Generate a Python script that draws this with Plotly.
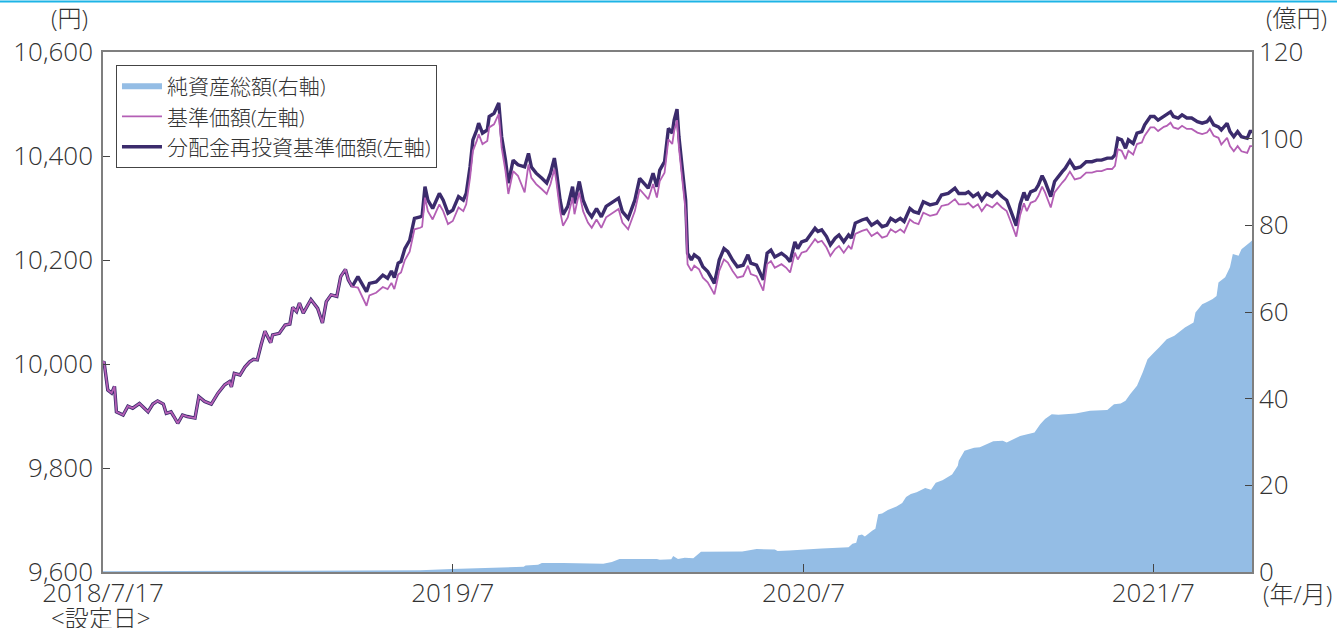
import plotly.graph_objects as go

# ---------------- data ----------------
price_dates = [
    "2018-07-17", "2018-07-18", "2018-07-22", "2018-07-26", "2018-07-29", "2018-07-31",
    "2018-08-07", "2018-08-12", "2018-08-17", "2018-08-24", "2018-09-02", "2018-09-07",
    "2018-09-12", "2018-09-18", "2018-09-21", "2018-09-26", "2018-09-29", "2018-10-03",
    "2018-10-08", "2018-10-13", "2018-10-21", "2018-10-25", "2018-10-31", "2018-11-07",
    "2018-11-14", "2018-11-21", "2018-11-26", "2018-11-28", "2018-12-01", "2018-12-07",
    "2018-12-12", "2018-12-17", "2018-12-21", "2018-12-25", "2018-12-29", "2019-01-02",
    "2019-01-08", "2019-01-10", "2019-01-17", "2019-01-23", "2019-01-28", "2019-01-31",
    "2019-02-04", "2019-02-07", "2019-02-11", "2019-02-19", "2019-02-26", "2019-03-03",
    "2019-03-07", "2019-03-12", "2019-03-18", "2019-03-22", "2019-03-27", "2019-03-30",
    "2019-04-03", "2019-04-09", "2019-04-18", "2019-04-21", "2019-04-28", "2019-05-05",
    "2019-05-10", "2019-05-14", "2019-05-17", "2019-05-21", "2019-05-24", "2019-05-28",
    "2019-06-02", "2019-06-07", "2019-06-13", "2019-06-15", "2019-06-18", "2019-06-21",
    "2019-06-26", "2019-07-03", "2019-07-07", "2019-07-12", "2019-07-17", "2019-07-23",
    "2019-07-28", "2019-07-31", "2019-08-04", "2019-08-07", "2019-08-11", "2019-08-13",
    "2019-08-17", "2019-08-22", "2019-08-24", "2019-08-29", "2019-09-03", "2019-09-06",
    "2019-09-10", "2019-09-13", "2019-09-18", "2019-09-23", "2019-09-30", "2019-10-04",
    "2019-10-07", "2019-10-12", "2019-10-18", "2019-10-23", "2019-10-27", "2019-10-31",
    "2019-11-02", "2019-11-06", "2019-11-09", "2019-11-14", "2019-11-19", "2019-11-21",
    "2019-11-26", "2019-11-30", "2019-12-05", "2019-12-09", "2019-12-14", "2019-12-19",
    "2019-12-24", "2019-12-31", "2020-01-06", "2020-01-10", "2020-01-16", "2020-01-23",
    "2020-01-28", "2020-02-06", "2020-02-11", "2020-02-15", "2020-02-18", "2020-02-23",
    "2020-02-27", "2020-03-02", "2020-03-04", "2020-03-07", "2020-03-09", "2020-03-13",
    "2020-03-16", "2020-03-18", "2020-03-22", "2020-03-25", "2020-03-30", "2020-04-03",
    "2020-04-08", "2020-04-12", "2020-04-15", "2020-04-18", "2020-04-20", "2020-04-25",
    "2020-04-29", "2020-05-04", "2020-05-09", "2020-05-15", "2020-05-20", "2020-05-23",
    "2020-05-29", "2020-06-05", "2020-06-09", "2020-06-13", "2020-06-17", "2020-06-24",
    "2020-06-29", "2020-07-03", "2020-07-08", "2020-07-11", "2020-07-15", "2020-07-20",
    "2020-07-29", "2020-08-01", "2020-08-05", "2020-08-10", "2020-08-14", "2020-08-19",
    "2020-08-23", "2020-08-28", "2020-09-02", "2020-09-05", "2020-09-09", "2020-09-16",
    "2020-09-21", "2020-09-26", "2020-10-02", "2020-10-07", "2020-10-12", "2020-10-16",
    "2020-10-21", "2020-10-26", "2020-10-30", "2020-11-05", "2020-11-09", "2020-11-14",
    "2020-11-19", "2020-11-26", "2020-12-03", "2020-12-08", "2020-12-15", "2020-12-22",
    "2020-12-26", "2021-01-02", "2021-01-05", "2021-01-10", "2021-01-15", "2021-01-19",
    "2021-01-24", "2021-01-30", "2021-02-04", "2021-02-09", "2021-02-14", "2021-02-18",
    "2021-02-24", "2021-02-28", "2021-03-04", "2021-03-07", "2021-03-11", "2021-03-16",
    "2021-03-19", "2021-03-23", "2021-03-26", "2021-04-01", "2021-04-05", "2021-04-13",
    "2021-04-16", "2021-04-21", "2021-04-26", "2021-05-02", "2021-05-08", "2021-05-14",
    "2021-05-19", "2021-05-24", "2021-05-30", "2021-06-04", "2021-06-07", "2021-06-10",
    "2021-06-14", "2021-06-18", "2021-06-21", "2021-06-26", "2021-06-30", "2021-07-05",
    "2021-07-08", "2021-07-14", "2021-07-18", "2021-07-22", "2021-07-28", "2021-07-31",
    "2021-08-04", "2021-08-07", "2021-08-12", "2021-08-16", "2021-08-21", "2021-08-26",
    "2021-09-01", "2021-09-06", "2021-09-11", "2021-09-14", "2021-09-18", "2021-09-23",
    "2021-09-26", "2021-10-02", "2021-10-05", "2021-10-09", "2021-10-13", "2021-10-17",
    "2021-10-23", "2021-10-26", "2021-10-28",
]

# 分配金再投資基準価額 (円)
reinvested_nav = [
    10002, 10005, 9950, 9944, 9957, 9908,
    9902, 9919, 9915, 9924, 9908, 9923,
    9929, 9923, 9905, 9908, 9899, 9886,
    9902, 9899, 9896, 9937, 9928, 9923,
    9944, 9960, 9966, 9956, 9982, 9979,
    9994, 10004, 10009, 10008, 10037, 10063,
    10041, 10056, 10059, 10075, 10077, 10109,
    10101, 10117, 10098, 10124, 10107, 10079,
    10120, 10133, 10130, 10168, 10182, 10162,
    10149, 10168, 10139, 10155, 10158, 10171,
    10165, 10179, 10166, 10194, 10197, 10222,
    10238, 10280, 10283, 10285, 10341, 10315,
    10299, 10328, 10315, 10290, 10296, 10322,
    10315, 10328, 10379, 10431, 10450, 10463,
    10444, 10450, 10476, 10482, 10502, 10437,
    10392, 10348, 10392, 10383, 10379, 10405,
    10379, 10367, 10357, 10348, 10367, 10396,
    10373, 10315, 10287, 10303, 10341, 10309,
    10351, 10315, 10293, 10283, 10299, 10283,
    10303, 10312, 10319, 10293, 10280, 10315,
    10357, 10338, 10367, 10341, 10373, 10389,
    10453, 10444, 10469, 10490, 10437, 10367,
    10315, 10213, 10200, 10210, 10203, 10187,
    10178, 10165, 10155, 10181, 10200, 10222,
    10216, 10200, 10187, 10190, 10210, 10194,
    10190, 10162, 10213, 10219, 10206, 10213,
    10206, 10197, 10235, 10222, 10235, 10238,
    10261, 10255, 10258, 10245, 10229, 10242,
    10248, 10235, 10248, 10242, 10271, 10277,
    10280, 10267, 10274, 10264, 10267, 10280,
    10274, 10280, 10274, 10299, 10293, 10290,
    10312, 10306, 10309, 10325, 10328, 10338,
    10328, 10328, 10331, 10322, 10328, 10315,
    10328, 10322, 10331, 10322, 10315, 10296,
    10266, 10307, 10330, 10315, 10331, 10335,
    10344, 10362, 10351, 10322, 10351, 10370,
    10376, 10391, 10376, 10379, 10389, 10389,
    10392, 10392, 10396, 10396, 10402, 10434,
    10431, 10415, 10431, 10424, 10444, 10447,
    10460, 10476, 10476, 10469, 10477, 10479,
    10485, 10476, 10473, 10479, 10473, 10473,
    10466, 10463, 10466, 10473, 10460, 10456,
    10450, 10463, 10447, 10437, 10447, 10437,
    10434, 10447, 10447,
]

# 基準価額 (円)
nav = [
    10002, 10005, 9950, 9944, 9957, 9908,
    9902, 9919, 9915, 9924, 9908, 9923,
    9929, 9923, 9905, 9908, 9899, 9886,
    9902, 9899, 9896, 9937, 9928, 9923,
    9944, 9960, 9966, 9956, 9982, 9979,
    9994, 10004, 10009, 10008, 10037, 10063,
    10041, 10056, 10059, 10075, 10077, 10109,
    10101, 10117, 10098, 10124, 10107, 10079,
    10120, 10133, 10130, 10168, 10182, 10162,
    10149, 10147, 10112, 10132, 10137, 10148,
    10144, 10156, 10144, 10172, 10176, 10200,
    10216, 10259, 10262, 10264, 10320, 10294,
    10278, 10307, 10294, 10269, 10275, 10301,
    10294, 10307, 10358, 10410, 10429, 10442,
    10423, 10429, 10455, 10461, 10481, 10416,
    10371, 10327, 10371, 10362, 10330, 10384,
    10358, 10346, 10336, 10327, 10346, 10375,
    10352, 10294, 10266, 10282, 10320, 10288,
    10330, 10294, 10272, 10262, 10278, 10262,
    10282, 10291, 10298, 10272, 10259, 10294,
    10336, 10317, 10346, 10320, 10352, 10368,
    10432, 10423, 10448, 10469, 10416, 10346,
    10294, 10192, 10179, 10189, 10182, 10166,
    10157, 10144, 10134, 10160, 10179, 10201,
    10195, 10179, 10166, 10169, 10189, 10173,
    10169, 10141, 10192, 10198, 10185, 10192,
    10185, 10176, 10214, 10201, 10214, 10217,
    10240, 10234, 10237, 10224, 10208, 10221,
    10227, 10214, 10227, 10221, 10250, 10256,
    10259, 10246, 10253, 10243, 10246, 10259,
    10253, 10259, 10253, 10278, 10272, 10269,
    10291, 10285, 10288, 10304, 10307, 10317,
    10307, 10307, 10310, 10301, 10307, 10294,
    10307, 10301, 10310, 10301, 10294, 10275,
    10245, 10286, 10309, 10294, 10310, 10314,
    10323, 10341, 10330, 10301, 10330, 10349,
    10355, 10370, 10355, 10358, 10368, 10368,
    10371, 10371, 10375, 10375, 10381, 10413,
    10410, 10394, 10410, 10403, 10423, 10426,
    10439, 10455, 10455, 10448, 10456, 10458,
    10464, 10455, 10452, 10458, 10452, 10452,
    10445, 10442, 10445, 10452, 10439, 10435,
    10422, 10435, 10419, 10409, 10419, 10409,
    10406, 10419, 10419,
]

# 純資産総額 (億円)
asset_dates = [
    "2018-07-17", "2019-02-07", "2019-06-13", "2019-07-16", "2019-09-29", "2019-10-01",
    "2019-10-14", "2019-10-18", "2019-11-09", "2019-12-21", "2019-12-30", "2020-01-07",
    "2020-02-15", "2020-02-18", "2020-03-01", "2020-03-03", "2020-03-08", "2020-03-15",
    "2020-03-24", "2020-04-01", "2020-05-14", "2020-05-29", "2020-06-17", "2020-06-20",
    "2020-07-02", "2020-08-05", "2020-09-02", "2020-09-06", "2020-09-10", "2020-09-12",
    "2020-09-16", "2020-09-19", "2020-09-27", "2020-09-30", "2020-10-03", "2020-10-07",
    "2020-10-13", "2020-10-22", "2020-10-28", "2020-11-01", "2020-11-06", "2020-11-12",
    "2020-11-21", "2020-11-27", "2020-12-02", "2020-12-09", "2020-12-19", "2020-12-25",
    "2020-12-26", "2021-01-01", "2021-01-11", "2021-01-17", "2021-01-31", "2021-02-10",
    "2021-02-14", "2021-02-28", "2021-03-15", "2021-03-21", "2021-03-26", "2021-04-02",
    "2021-04-09", "2021-04-27", "2021-05-12", "2021-05-30", "2021-06-06", "2021-06-13",
    "2021-06-18", "2021-06-23", "2021-06-30", "2021-07-06", "2021-07-11", "2021-07-18",
    "2021-07-23", "2021-07-31", "2021-08-08", "2021-08-19", "2021-08-28", "2021-08-30",
    "2021-09-06", "2021-09-10", "2021-09-17", "2021-09-21", "2021-09-23", "2021-09-30",
    "2021-10-05", "2021-10-08", "2021-10-14", "2021-10-17", "2021-10-26", "2021-10-28",
]
net_assets = [
    0.2, 0.3, 0.4, 0.7, 1.2, 1.5,
    1.7, 2.1, 2.1, 1.9, 2.3, 3.0,
    3.0, 2.85, 2.95, 3.7, 3.0, 3.3,
    3.2, 4.65, 4.75, 5.3, 5.2, 4.85,
    4.95, 5.4, 5.7, 6.5, 6.75, 8.45,
    8.65, 8.2, 9.6, 10.0, 13.3, 13.5,
    14.3, 15.1, 15.9, 17.3, 18.0, 18.4,
    19.4, 19.0, 20.6, 21.2, 22.5, 24.5,
    25.7, 28.0, 28.7, 28.8, 30.2, 30.3,
    29.9, 31.4, 32.2, 34.1, 35.3, 36.4,
    36.3, 36.6, 37.2, 37.4, 38.7, 38.9,
    39.5, 41.1, 43.0, 46.1, 49.1, 50.7,
    51.8, 53.7, 54.5, 56.4, 57.6, 59.9,
    61.8, 62.2, 63.0, 63.7, 66.8, 68.0,
    70.3, 73.4, 73.0, 74.5, 76.1, 76.5,
]

x_tick_vals = ["2018-07-17", "2019-07-17", "2020-07-17", "2021-07-17"]
x_tick_text = ["2018/7/17", "2019/7", "2020/7", "2021/7"]
x_range = ["2018-07-17", "2021-10-28"]

left_range = [9600, 10600]
right_range = [0, 120]

# ---------------- styling ----------------
FONT = "Open Sans, Noto Sans CJK JP"
TXT = "#333333"
AXIS = "#7f7f7f"
TICKFONT = dict(family=FONT, size=26, color=TXT, weight=300)
NOTEFONT = dict(family=FONT, size=24, color=TXT, weight=300)

fig = go.Figure()

fig.add_trace(go.Scatter(
    x=asset_dates, y=net_assets, name="純資産総額(右軸)",
    mode="none", fill="tozeroy", fillcolor="#94bde5",
    yaxis="y", legendrank=1,
))
fig.add_trace(go.Scatter(
    x=price_dates, y=reinvested_nav, name="分配金再投資基準価額(左軸)",
    mode="lines", line=dict(color="#3b2b6c", width=3.4),
    yaxis="y2", legendrank=3,
))
fig.add_trace(go.Scatter(
    x=price_dates, y=nav, name="基準価額(左軸)",
    mode="lines", line=dict(color="#b45fb5", width=1.8),
    yaxis="y2", legendrank=2,
))

fig.update_layout(
    width=1337, height=628,
    margin=dict(l=103, r=85, t=52, b=56, autoexpand=False),
    paper_bgcolor="white", plot_bgcolor="white",
    font=dict(family=FONT, size=22, color=TXT),
    showlegend=True,
    legend=dict(
        x=0.0113, y=0.975, xanchor="left", yanchor="top",
        bgcolor="white", bordercolor="#444444", borderwidth=1,
        font=dict(family=FONT, size=21, color=TXT, weight=300),
        tracegroupgap=0, itemwidth=40,
    ),
    xaxis=dict(
        type="date", range=x_range, automargin=False,
        tickmode="array", tickvals=x_tick_vals, ticktext=x_tick_text,
        ticks="inside", ticklen=8, tickcolor="#444444", tickwidth=1,
        ticklabelstandoff=-3,
        showline=True, linecolor=AXIS, linewidth=1.5, mirror=True,
        showgrid=False, zeroline=False,
        tickfont=TICKFONT,
    ),
    yaxis=dict(
        range=right_range, dtick=20, side="right", automargin=False,
        ticks="inside", ticklen=7, tickcolor="#444444",
        showline=True, linecolor=AXIS, linewidth=1.5,
        showgrid=False, zeroline=False,
        tickfont=TICKFONT,
    ),
    yaxis2=dict(
        range=left_range, dtick=200, side="left", overlaying="y", automargin=False,
        tickformat=",d", ticklabelstandoff=3,
        ticks="inside", ticklen=7, tickcolor="#444444",
        showline=True, linecolor=AXIS, linewidth=1.5,
        showgrid=False, zeroline=False,
        tickfont=TICKFONT,
    ),
    annotations=[
        dict(text="(円)", xref="paper", yref="paper", x=-0.029, y=1.066,
             xanchor="center", yanchor="middle", showarrow=False, font=NOTEFONT),
        dict(text="(億円)", xref="paper", yref="paper", x=1.039, y=1.066,
             xanchor="center", yanchor="middle", showarrow=False, font=NOTEFONT),
        dict(text="(年/月)", xref="paper", yref="paper", x=1.04, y=-0.041,
             xanchor="center", yanchor="middle", showarrow=False, font=NOTEFONT),
        dict(text="&lt;設定日&gt;", xref="paper", yref="paper", x=-0.0026, y=-0.0875,
             xanchor="center", yanchor="middle", showarrow=False, font=NOTEFONT),
    ],
    shapes=[
        dict(type="line", xref="paper", yref="paper",
             x0=-0.1, x1=1.1, y0=1.097, y1=1.097,
             line=dict(color="#1db4e6", width=2)),
    ],
)

fig.write_html("out.html", config={"displayModeBar": False},
               post_script="document.body.style.margin='0px';")
